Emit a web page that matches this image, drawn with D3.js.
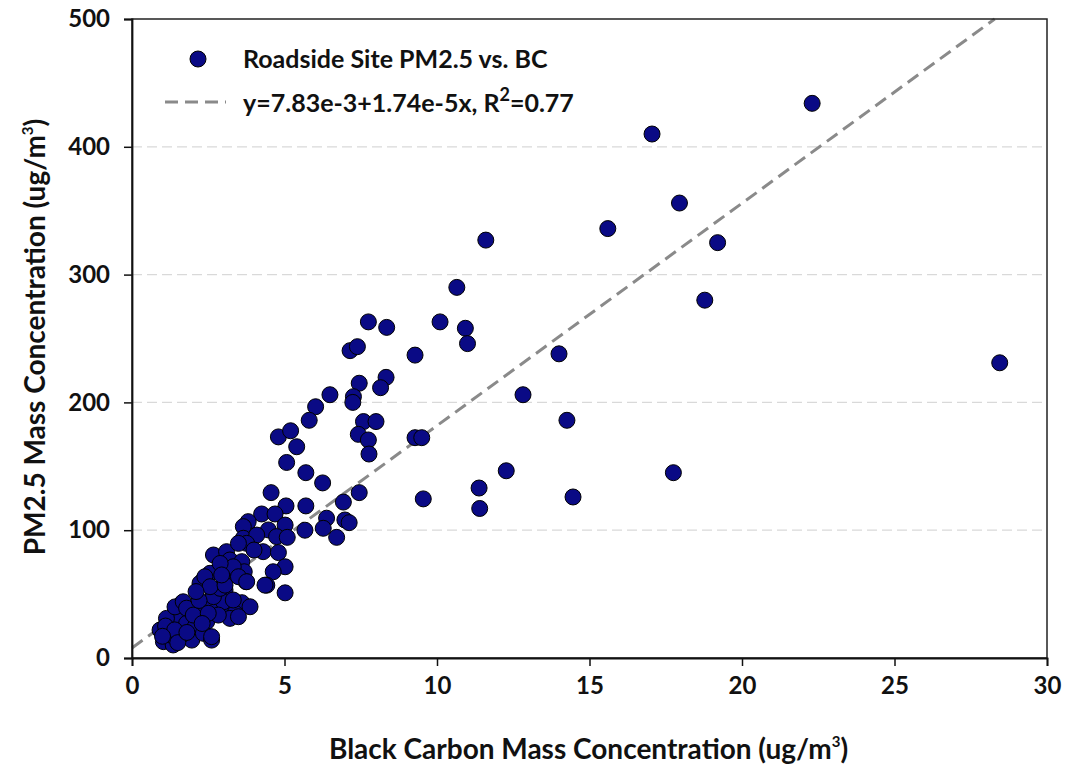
<!DOCTYPE html>
<html>
<head>
<meta charset="utf-8">
<script src="https://cdn.jsdelivr.net/npm/d3@7"></script>
<style>
  body { margin: 0; background: #fff; }
  svg text { font-family: Lato, "Open Sans", sans-serif; font-weight: bold; fill: #111; }
</style>
</head>
<body>
<svg id="chart" width="1066" height="778"></svg>
<script>
// black carbon (x) vs PM2.5 (y), ug/m3
const bcValues = [
  28.45, 22.3, 17.05, 17.95, 15.6, 19.2, 18.78, 17.75, 14.0, 14.26, 14.46, 12.27, 12.82, 11.6, 10.65, 10.1,
  10.93, 11.0, 9.28, 9.28, 9.5, 9.55, 11.38, 11.4,
  7.75, 8.35, 7.15, 7.39, 7.45, 8.33, 8.15, 6.49, 7.26, 7.24, 6.02, 5.81, 5.4, 7.59, 8.0, 7.42, 7.75, 7.77,
  5.7, 6.25, 7.45, 5.7, 6.93, 6.38, 5.67, 6.27, 6.98, 7.12, 6.71,
  4.8, 5.2, 5.07, 4.56, 5.05, 4.25, 4.69, 3.81, 3.65, 4.47, 5.02, 4.74, 3.65, 4.09, 5.09, 3.76, 4.3, 4.8,
  4.0, 5.02, 4.63, 4.42, 5.02, 2.67, 3.1, 3.21, 3.6, 3.68, 3.74, 2.83, 2.56, 2.34, 3.27, 3.32, 2.67, 3.05,
  3.6, 3.87, 2.45, 2.89, 3.16, 3.38,
  0.92, 1.19, 1.57, 1.96, 1.25, 1.52, 1.79, 1.13, 1.63, 1.96, 2.23, 2.45, 2.07, 2.34, 2.61, 2.56, 3.21,
  3.0, 3.32, 2.67, 2.89, 2.23, 2.39, 2.56, 2.89, 3.49, 3.49, 3.49, 1.03, 1.35, 1.63, 1.25, 1.41, 1.68,
  1.79, 2.01, 2.83, 2.61, 3.76, 4.36, 3.05, 2.94, 1.1, 1.4, 1.0, 1.5, 1.8, 2.2, 2.1, 2.5, 2.3
];
const pm25Values = [
  231, 434, 410, 356, 336, 325, 280, 145, 238, 186, 126, 146.5, 206, 327, 290, 263,
  258, 246, 237, 172.4, 172.4, 124.5, 133, 117,
  263, 258.7, 240.5, 243.6, 215, 219.6, 211.5, 206, 204.5, 200, 196.6, 186, 165.3, 185, 185, 175, 170.6, 159.6,
  145, 137, 129.4, 119, 122, 109.4, 100, 101.5, 108, 105.9, 94.4,
  173, 177.8, 153, 129.4, 119, 112.7, 112.7, 106.7, 102.8, 100.2, 104, 95, 93.7, 96.2, 94.4, 89.7, 83.2, 82.5,
  84.5, 71.4, 67.5, 57, 51, 80.6, 83.2, 76.7, 75.4, 67.5, 59.7, 68.9, 66.3, 61, 66.3, 71.4, 50.6, 53.2,
  43.3, 40.1, 41.5, 40.2, 37.6, 35,
  21.9, 14, 16.7, 14, 28.4, 31.8, 27.1, 31, 42.8, 37.6, 36.2, 28.4, 24.5, 19.3, 14, 41.5, 31,
  44, 45.4, 48, 54.5, 58.5, 63.6, 55.8, 74, 63.6, 32.3, 89.7, 12.8, 10.2, 18, 18, 40, 44,
  39, 33.6, 33.6, 16.7, 59.7, 57, 57, 65, 25, 22, 17, 12, 20, 45, 52, 35, 27
];

const xTicks = [0, 5, 10, 15, 20, 25, 30];
const yTicks = [0, 100, 200, 300, 400, 500];
const gridValues = [100, 200, 300, 400];

// fit: y = 7.83 + 17.4x (ug/m3)
const fitIntercept = 7.83;
const fitSlope = 17.4;

const seriesLabel = "Roadside Site PM2.5 vs. BC";

const svg = d3.select("#chart");
const margin = { left: 132, right: 19, top: 19, bottom: 120 };
const width = 1066 - margin.left - margin.right;
const height = 778 - margin.top - margin.bottom;

const x = d3.scaleLinear().domain([0, 30]).range([0, width]);
const y = d3.scaleLinear().domain([0, 500]).range([height, 0]);

const g = svg.append("g").attr("transform", `translate(${margin.left},${margin.top})`);

// gridlines
g.selectAll("line.grid")
  .data(gridValues)
  .join("line")
  .attr("class", "grid")
  .attr("x1", 0).attr("x2", width)
  .attr("y1", d => y(d)).attr("y2", d => y(d))
  .attr("stroke", "#d9d9d9")
  .attr("stroke-width", 1.3)
  .attr("stroke-dasharray", "10,5");

// regression line, stops at top of plot
const xEnd = (500 - fitIntercept) / fitSlope;
const fitPts = [0, xEnd].map(v => [v, fitIntercept + fitSlope * v]);
g.append("path")
  .attr("d", d3.line().x(d => x(d[0])).y(d => y(d[1]))(fitPts))
  .attr("fill", "none")
  .attr("stroke", "#8a8a8a")
  .attr("stroke-width", 3)
  .attr("stroke-dasharray", "13,7");

// points
const points = bcValues.map((v, i) => ({ bc: v, pm: pm25Values[i] }));
g.selectAll("circle.pt")
  .data(points)
  .join("circle")
  .attr("class", "pt")
  .attr("cx", d => x(d.bc))
  .attr("cy", d => y(d.pm))
  .attr("r", 8)
  .attr("fill", "#0a0a85")
  .attr("stroke", "#000")
  .attr("stroke-width", 1);

// frame
g.append("rect")
  .attr("width", width).attr("height", height)
  .attr("fill", "none")
  .attr("stroke", "#222")
  .attr("stroke-width", 1.5);

// axes
const xAxis = g.append("g")
  .attr("transform", `translate(0,${height})`)
  .call(d3.axisBottom(x).tickValues(xTicks).tickSize(8).tickPadding(11));
const yAxis = g.append("g")
  .call(d3.axisLeft(y).tickValues(yTicks).tickSize(8).tickPadding(14));

[xAxis, yAxis].forEach(a => {
  a.select(".domain").attr("stroke", "#111").attr("stroke-width", 1.8);
  a.selectAll(".tick line").attr("stroke", "#111").attr("stroke-width", 1.5);
  a.selectAll(".tick text")
    .style("font-family", "Lato, 'Open Sans', sans-serif")
    .style("font-weight", "bold")
    .style("font-size", "24px")
    .attr("fill", "#111");
});

// axis titles
const xTitle = svg.append("text")
  .attr("x", margin.left + width / 2 - 1)
  .attr("y", 759)
  .attr("text-anchor", "middle")
  .style("font-size", "28px");
xTitle.append("tspan").text("Black Carbon Mass Concentration (ug/m");
xTitle.append("tspan").attr("dy", -12).style("font-size", "15px").text("3");
xTitle.append("tspan").attr("dy", 12).text(")");

const yTitle = svg.append("text")
  .attr("transform", `translate(45,337) rotate(-90)`)
  .attr("text-anchor", "middle")
  .style("font-size", "28px");
yTitle.append("tspan").text("PM2.5 Mass Concentration (ug/m");
yTitle.append("tspan").attr("dy", -12).style("font-size", "15px").text("3");
yTitle.append("tspan").attr("dy", 12).text(")");

// legend
const legend = svg.append("g");
legend.append("circle")
  .attr("cx", 198).attr("cy", 59).attr("r", 8)
  .attr("fill", "#0a0a85").attr("stroke", "#000");
legend.append("text")
  .attr("x", 243).attr("y", 68)
  .style("font-size", "25px")
  .text(seriesLabel);
legend.append("line")
  .attr("x1", 165).attr("x2", 226)
  .attr("y1", 102).attr("y2", 102)
  .attr("stroke", "#8a8a8a").attr("stroke-width", 3)
  .attr("stroke-dasharray", "13,7");
const eq = legend.append("text")
  .attr("x", 243).attr("y", 112)
  .style("font-size", "25px");
eq.append("tspan").text("y=7.83e-3+1.74e-5x, R");
eq.append("tspan").attr("dy", -11).style("font-size", "18px").text("2");
eq.append("tspan").attr("dy", 11).text("=0.77");
</script>
</body>
</html>
